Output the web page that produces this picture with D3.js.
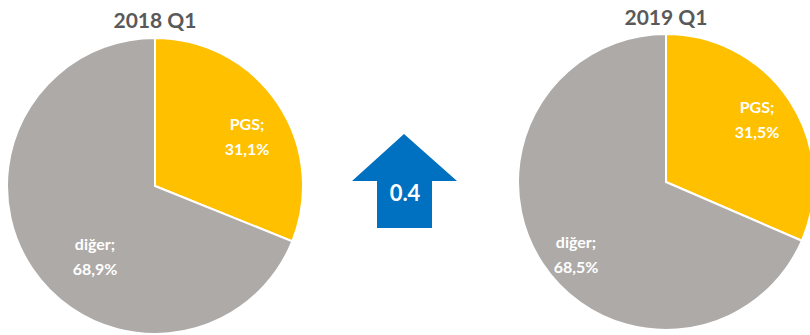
<!DOCTYPE html>
<html><head><meta charset="utf-8">
<script src="https://cdn.jsdelivr.net/npm/d3@7"></script>
<style>body{margin:0;background:#fff}svg{display:block}</style>
</head><body>
<svg id="c" width="810" height="335"></svg>
<script>
const titles = ["2018 Q1", "2019 Q1"];
const categories = ["PGS", "diğer"];
const values2018 = [31.1, 68.9];
const values2019 = [31.5, 68.5];
const changeLabel = "0.4";
const colors = ["#FFC000", "#ADAAA8"];

const svg = d3.select("#c");
const font = "Lato, 'Open Sans', sans-serif";
const pies = [
  {title: titles[0], values: values2018, cx: 155, cy: 186, r: 148, ty: 28,
   labels: [[247, 130], [95, 250]]},
  {title: titles[1], values: values2019, cx: 666, cy: 182, r: 148, ty: 25,
   labels: [[757, 113], [576, 248]]}
];
const pie = d3.pie().sort(null).value(d => d);
const arc = d3.arc().innerRadius(0);
const fmt = v => d3.format(".1f")(v).replace(".", ",") + "%";

pies.forEach(p => {
  const g = svg.append("g").attr("transform", `translate(${p.cx},${p.cy})`);
  const arcs = pie(p.values);
  g.selectAll("path").data(arcs).enter().append("path")
    .attr("d", d => arc.outerRadius(p.r)(d))
    .attr("fill", (d, i) => colors[i])
    .attr("stroke", "#fff").attr("stroke-width", 2);
  svg.append("text").attr("x", p.cx).attr("y", p.ty)
    .attr("text-anchor", "middle").attr("font-family", font)
    .attr("font-weight", "bold").attr("font-size", 21).attr("fill", "#595959")
    .text(p.title);
  arcs.forEach((d, i) => {
    const t = svg.append("text").attr("text-anchor", "middle")
      .attr("font-family", font).attr("font-weight", "bold")
      .attr("font-size", 16).attr("fill", "#fff");
    t.append("tspan").attr("x", p.labels[i][0]).attr("y", p.labels[i][1])
      .text(categories[i] + ";");
    t.append("tspan").attr("x", p.labels[i][0]).attr("y", p.labels[i][1] + 25)
      .text(fmt(p.values[i]));
  });
});

// arrow
const ax = 404;
const arrowPts = [[ax, 134], [457, 181], [432, 181], [432, 228], [377, 228], [377, 181], [352, 181]];
svg.append("path").attr("d", d3.line()(arrowPts) + "Z").attr("fill", "#0070C0");
svg.append("text").attr("x", ax + 1).attr("y", 201).attr("text-anchor", "middle")
  .attr("font-family", font).attr("font-weight", "bold").attr("font-size", 22)
  .attr("fill", "#fff").text(changeLabel);
</script>
</body></html>
